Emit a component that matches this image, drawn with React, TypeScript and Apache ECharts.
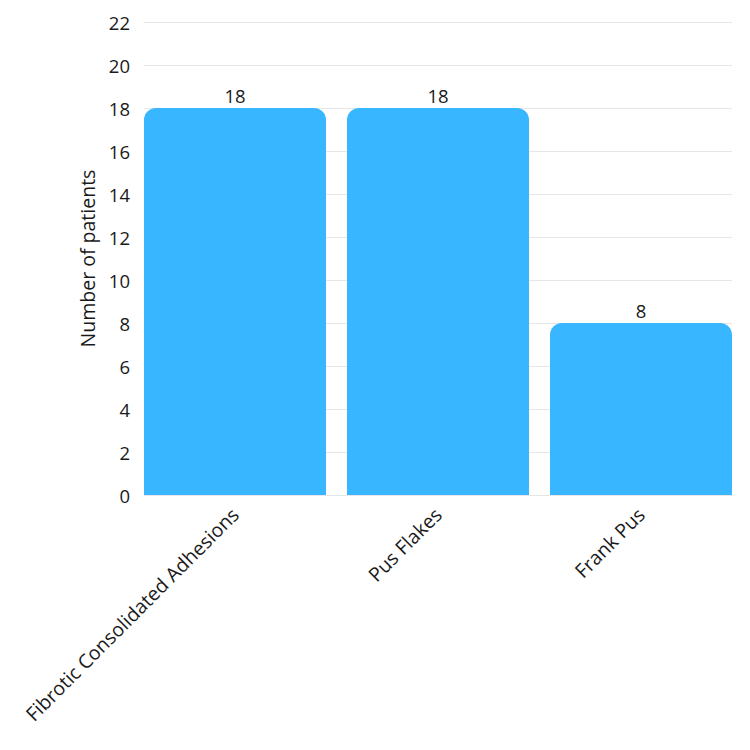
import React, { useEffect, useRef } from "react";
import * as echarts from "echarts";

const categories = ["Fibrotic Consolidated Adhesions", "Pus Flakes", "Frank Pus"];
const patients = [18, 18, 8];
const yTicks = { min: 0, max: 22, interval: 2 };

export default function App() {
  const ref = useRef<HTMLDivElement>(null);
  useEffect(() => {
    if (!ref.current) return;
    const chart = echarts.init(ref.current, undefined, { renderer: "svg" });
    const font = "Open Sans";
    const ink = "#1a1a1a";
    chart.setOption({
      animation: false,
      grid: [
        { left: 136, right: 18, top: 14, bottom: 255, containLabel: false },
        { left: 125.5, right: 7.5, top: 14, bottom: 255, containLabel: false },
      ],
      xAxis: [
        { type: "category", gridIndex: 0, data: categories, show: false },
        {
          type: "category",
          gridIndex: 1,
          data: categories,
          axisLine: { show: false },
          axisTick: { show: false },
          axisLabel: {
            rotate: 45,
            margin: 16,
            fontFamily: font,
            fontSize: 19.5,
            color: ink,
            interval: 0,
          },
        },
      ],
      yAxis: [
        {
          type: "value",
          gridIndex: 0,
          min: yTicks.min,
          max: yTicks.max,
          interval: yTicks.interval,
          name: "Number of patients",
          nameLocation: "middle",
          nameGap: 47,
          nameTextStyle: { fontFamily: font, fontSize: 19.5, color: ink },
          axisLine: { show: false },
          axisTick: { show: false },
          axisLabel: { margin: 14, fontFamily: font, fontSize: 18.5, color: ink },
          splitLine: { lineStyle: { color: "#e6e6e6", width: 1 } },
        },
        {
          type: "value",
          gridIndex: 1,
          min: yTicks.min,
          max: yTicks.max,
          interval: yTicks.interval,
          show: false,
          splitLine: { show: false },
        },
      ],
      series: [
        {
          type: "bar",
          xAxisIndex: 1,
          yAxisIndex: 1,
          data: patients,
          barWidth: 182,
          itemStyle: { color: "#38B6FF", borderRadius: [12, 12, 0, 0] },
          label: {
            show: true,
            position: "top",
            distance: 3,
            fontFamily: font,
            fontSize: 18.5,
            color: ink,
          },
        },
      ],
    });
    return () => chart.dispose();
  }, []);
  return <div ref={ref} style={{ width: 742, height: 742 }} />;
}
